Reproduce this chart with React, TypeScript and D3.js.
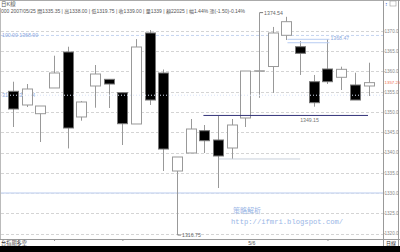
import React from "react";
import * as d3 from "d3";

const W = 400;
const H = 252;

// candles: open, high, low, close
const opens = [1355.11, 1351.73, 1349.58, 1355.93, 1364.81, 1348.77, 1356.42, 1358.07, 1354.77, 1347.04, 1369.51, 1359.63, 1335.43, 1339.88, 1345.38, 1343.09, 1341.11, 1348.52, 1360.12, 1361.23, 1368.94, 1366.12, 1357.48, 1360.62, 1358.57, 1356.67, 1356.42];
const highs = [1357.48, 1356.91, 1351.48, 1363.9, 1366.12, 1352.72, 1361.6, 1358.07, 1354.77, 1368.0, 1370.25, 1360.5, 1338.89, 1348.27, 1346.79, 1349.01, 1348.27, 1360.12, 1374.54, 1371.0, 1373.5, 1367.5, 1359.14, 1368.02, 1361.19, 1359.7, 1362.17];
const lows = [1346.3, 1351.23, 1342.59, 1355.93, 1341.0, 1347.85, 1351.06, 1350.99, 1341.85, 1347.04, 1351.73, 1335.43, 1316.75, 1339.88, 1339.88, 1331.23, 1338.4, 1346.3, 1353.5, 1354.69, 1367.78, 1359.14, 1351.31, 1356.91, 1355.43, 1352.96, 1353.95];
const closes = [1350.74, 1355.68, 1351.48, 1359.63, 1346.05, 1352.47, 1359.38, 1356.91, 1347.11, 1366.05, 1352.96, 1340.86, 1338.89, 1345.8, 1342.91, 1339.14, 1346.79, 1360.12, 1360.12, 1369.51, 1372.3, 1364.49, 1352.3, 1357.48, 1360.54, 1352.96, 1357.25];

const yTicks = [1370, 1365, 1360, 1355, 1350, 1345, 1340, 1335, 1330, 1325, 1320];
const headerLine1 = "日K線";
const headerLine2 = "000 2007/05/25 開1335.35 | 高1338.00 | 低1319.75 | 收1339.00 | 量1339 | 額22025 | 幅1.44% 漲(-1.50)-0.14%";
const fibHigh = { pct: "100.00", value: 1368.9 };
const fibMid = { pct: "31.82", value: 1354.14 };
const fibLow = 1330.0;
const supportLevel = 1349.15;
const highLabel = "1374.54";
const lowLabel = "1316.75";
const lastPrice = 1357.25;
const blueBandLevels = [1367.95, 1367.1];
const blueBandLabel = "1368.47";
const greyLevel = 1338.4;
const xTickIdx = [3, 8, 23];
const xLabel = { idx: 17.2, text: "5/6" };
const bottomLeft = "台指期多空";
const bottomRight = "日線";

export default function App() {
  const plotLeft = 1;
  const plotRight = 383;
  const plotBottom = 239;
  const n = opens.length;
  const x = d3.scaleLinear().domain([0, n - 1]).range([13, 368.5]);
  const y = d3.scaleLinear().domain([1320, 1370]).range([233.5, 31]);
  const bw = 10;
  const clampY = (v: number) => Math.min(plotBottom - 4, y(v));
  const font = "'Liberation Sans', 'Noto Sans CJK TC', sans-serif";

  return (
    <svg width={W} height={H} style={{ position: "absolute", left: 0, top: 0, background: "#fff" }}>
      <rect x={0} y={0} width={W} height={H} fill="#fff" />
      {/* borders */}
      <line x1={0} x2={W} y1={0.5} y2={0.5} stroke="#aaa" />
      <line x1={0.5} x2={0.5} y1={8} y2={plotBottom} stroke="#bbb" />
      <line x1={plotRight + 0.5} x2={plotRight + 0.5} y1={0} y2={plotBottom + 7} stroke="#999" />
      <line x1={398.5} x2={398.5} y1={0} y2={plotBottom + 7} stroke="#999" />
      <line x1={0} x2={W} y1={plotBottom + 0.5} y2={plotBottom + 0.5} stroke="#999" />
      {/* grid */}
      {yTicks.map((t) => (
        <line key={t} x1={plotLeft} x2={plotRight} y1={Math.round(y(t)) + 0.5} y2={Math.round(y(t)) + 0.5} stroke="#d4d4d4" strokeDasharray="3,2" />
      ))}
      {/* fib lines */}
      <line x1={plotLeft} x2={plotRight} y1={y(fibHigh.value)} y2={y(fibHigh.value)} stroke="#c5d5f0" strokeDasharray="3,2" />
      <line x1={plotLeft} x2={plotRight} y1={y(fibLow)} y2={y(fibLow)} stroke="#d0dcf4" strokeWidth={1.5} />
      <text x={2} y={y(fibHigh.value) + 2} fontSize={5.2} fill="#8aa8e0" fontFamily={font}>{`${fibHigh.pct} ${fibHigh.value.toFixed(2)}`}</text>
      <text x={2} y={y(fibMid.value) + 2} fontSize={5.2} fill="#8aa8e0" fontFamily={font}>{`${fibMid.pct} ${fibMid.value.toFixed(2)}`}</text>
      {/* watermark */}
      <text x={233} y={213} fontSize={7} fill="#9ab6e6" fontFamily="'Noto Sans CJK TC', sans-serif">策略解析</text>
      <text x={231} y={224} fontSize={7.2} fill="#9ab6e6" fontFamily="'Liberation Mono', monospace">http://ifmri.blogspot.com/</text>
      {/* candles */}
      {opens.map((o, i) => {
        const c = closes[i];
        const up = c >= o;
        const cx = Math.round(x(i)) + 0.5;
        const top = y(Math.max(o, c));
        const bot = y(Math.min(o, c));
        return (
          <g key={i}>
            <line x1={cx} x2={cx} y1={y(highs[i])} y2={clampY(lows[i])} stroke="#999" />
            {up ? (
              <rect x={cx - bw / 2} y={top} width={bw} height={Math.max(0.01, bot - top)} fill="#fff" stroke="#999" />
            ) : (
              <rect x={cx - bw / 2} y={top} width={bw} height={bot - top} fill="#000" stroke="#777" />
            )}
            {Math.abs(bot - top) < 0.5 && <line x1={cx - bw / 2} x2={cx + bw / 2} y1={top} y2={top} stroke="#999" />}
          </g>
        );
      })}
      {/* mid fib dotted line over candles */}
      <line x1={plotLeft} x2={plotRight} y1={y(fibMid.value)} y2={y(fibMid.value)} stroke="#d8e2f6" strokeDasharray="1,2" />
      {/* support */}
      <line x1={x(14) - 1} x2={plotRight - 15} y1={y(supportLevel)} y2={y(supportLevel)} stroke="#33337a" strokeWidth={1} />
      <text x={x(21)} y={y(supportLevel) + 7} fontSize={5.2} fill="#777" fontFamily={font}>{supportLevel.toFixed(2)}</text>
      {/* grey line */}
      <line x1={x(16) - 13} x2={x(21)} y1={y(greyLevel)} y2={y(greyLevel)} stroke="#c8d0dc" />
      {/* blue band */}
      {blueBandLevels.map((v) => (
        <line key={v} x1={x(20) + 1} x2={x(23) + 2} y1={y(v)} y2={y(v)} stroke="#b8cdf2" />
      ))}
      <text x={x(23) + 3} y={y(blueBandLevels[0]) + 1} fontSize={5.2} fill="#8aa8e0" fontFamily={font}>{blueBandLabel}</text>
      {/* high/low markers */}
      <line x1={x(18) + 0.5} x2={x(18) + 4} y1={y(highs[18])} y2={y(highs[18])} stroke="#777" />
      <text x={x(18) + 5} y={y(highs[18]) + 2} fontSize={5.2} fill="#666" fontFamily={font}>{highLabel}</text>
      <line x1={x(12) + 0.5} x2={x(12) + 4} y1={clampY(lows[12])} y2={clampY(lows[12])} stroke="#777" />
      <text x={x(12) + 5} y={clampY(lows[12]) + 2} fontSize={5.2} fill="#666" fontFamily={font}>{lowLabel}</text>
      {/* y axis labels */}
      {yTicks.map((t) => (
        <g key={t}>
          <line x1={plotRight} x2={plotRight + 1.5} y1={y(t)} y2={y(t)} stroke="#999" />
          <text x={plotRight + 1.5} y={y(t) + 1.8} fontSize={4.6} fill="#888" fontFamily={font}>{t.toFixed(1)}</text>
        </g>
      ))}
      <text x={plotRight + 1.5} y={y(lastPrice) + 1.8} fontSize={4.4} fill="#f07050" fontFamily={font}>{lastPrice.toFixed(2)}</text>
      {/* header */}
      <text x={1} y={6} fontSize={5.5} fill="#555" fontFamily={font}>{headerLine1}</text>
      <text x={1} y={13} fontSize={5} fill="#555" fontFamily={font}>{headerLine2}</text>
      <rect x={390} y={1} width={6} height={5} fill="none" stroke="#999" strokeWidth={0.6} />
      <text x={385} y={6} fontSize={5} fill="#3060d0" fontFamily={font}>↕</text>
      {/* bottom */}
      {xTickIdx.map((i) => (
        <line key={i} x1={x(i) + 0.5} x2={x(i) + 0.5} y1={plotBottom} y2={plotBottom + 2} stroke="#999" />
      ))}
      <text x={x(xLabel.idx)} y={plotBottom + 6} fontSize={5.2} fill="#555" fontFamily={font}>{xLabel.text}</text>
      <text x={1} y={plotBottom + 6} fontSize={5.2} fill="#333" fontFamily={font}>{bottomLeft}</text>
      <text x={386} y={plotBottom + 6} fontSize={5} fill="#333" fontFamily={font}>{bottomRight}</text>
      <rect x={0} y={246} width={W} height={6} fill="#000" />
    </svg>
  );
}
